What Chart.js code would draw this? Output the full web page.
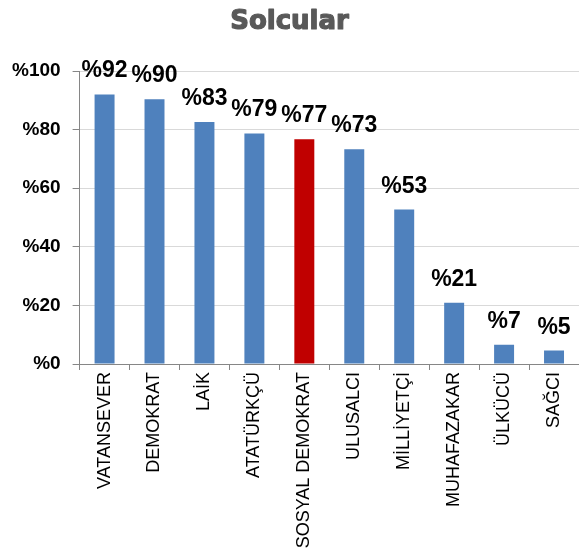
<!DOCTYPE html>
<html>
<head>
<meta charset="utf-8">
<script src="https://cdn.jsdelivr.net/npm/chart.js@4.4.0/dist/chart.umd.min.js"></script>
<style>
  html, body { margin: 0; padding: 0; background: #ffffff; }
  #wrap { width: 579px; height: 559px; position: relative; }
</style>
</head>
<body>
<div id="wrap"><canvas id="c" width="579" height="559"></canvas></div>
<script>
const titleText = 'Solcular';
const categories = ['VATANSEVER', 'DEMOKRAT', 'LAİK', 'ATATÜRKÇÜ', 'SOSYAL DEMOKRAT', 'ULUSALCI', 'MİLLİYETÇİ', 'MUHAFAZAKAR', 'ÜLKÜCÜ', 'SAĞCI'];
const values = [92.0, 90.4, 82.6, 78.7, 76.7, 73.3, 52.7, 20.9, 6.6, 4.6];
const highlighted = ['SOSYAL DEMOKRAT'];
const yTicks = [0, 20, 40, 60, 80, 100];

const barColors = categories.map(c => highlighted.includes(c) ? '#C00000' : '#4F81BD');

const titlePlugin = {
  id: 'customTitle',
  afterDraw(chart) {
    const ctx = chart.ctx;
    ctx.save();
    ctx.font = 'bold 26px "DejaVu Sans"';
    ctx.fillStyle = '#595959';
    ctx.strokeStyle = '#595959';
    ctx.lineWidth = 1.2;
    ctx.lineJoin = 'round';
    ctx.textAlign = 'center';
    ctx.textBaseline = 'alphabetic';
    ctx.fillText(titleText, chart.width / 2, 29);
    ctx.strokeText(titleText, chart.width / 2, 29);
    ctx.restore();
  }
};

const valueLabels = {
  id: 'valueLabels',
  afterDatasetsDraw(chart) {
    const ctx = chart.ctx;
    const meta = chart.getDatasetMeta(0);
    ctx.save();
    ctx.font = 'bold 23px "Liberation Sans", Arial, sans-serif';
    ctx.fillStyle = '#000000';
    ctx.textAlign = 'center';
    ctx.textBaseline = 'alphabetic';
    meta.data.forEach((bar, i) => {
      ctx.fillText('%' + Math.round(values[i]), bar.x, bar.y - 17);
    });
    ctx.restore();
  }
};

new Chart(document.getElementById('c'), {
  type: 'bar',
  data: {
    labels: categories,
    datasets: [{
      data: values,
      backgroundColor: barColors,
      borderWidth: 0,
      barPercentage: 0.5,
      categoryPercentage: 0.8
    }]
  },
  options: {
    responsive: false,
    animation: false,
    devicePixelRatio: 1,
    layout: { padding: { top: 71, right: 0, left: 0, bottom: 0 } },
    plugins: { legend: { display: false }, title: { display: false }, tooltip: { enabled: false } },
    scales: {
      x: {
        afterFit(scale) { scale.height = 195; },
        grid: { display: true, drawOnChartArea: false, offset: true, tickLength: 6, tickColor: '#868686', color: '#868686' },
        border: { color: '#868686', width: 1 },
        ticks: {
          maxRotation: 90, minRotation: 90, autoSkip: false, padding: 2,
          color: '#000000',
          font: { family: "'Liberation Sans', Arial, sans-serif", size: 18 }
        }
      },
      y: {
        min: 0, max: 100,
        afterBuildTicks(axis) { axis.ticks = yTicks.map(v => ({ value: v })); },
        grid: { color: '#D9D9D9', lineWidth: 1, tickLength: 7, tickColor: '#868686' },
        border: { color: '#868686', width: 1 },
        ticks: {
          padding: 12,
          color: '#000000',
          font: { family: "'Liberation Sans', Arial, sans-serif", size: 19, weight: 'bold' },
          callback: v => '%' + v
        }
      }
    }
  },
  plugins: [titlePlugin, valueLabels]
});
</script>
</body>
</html>
